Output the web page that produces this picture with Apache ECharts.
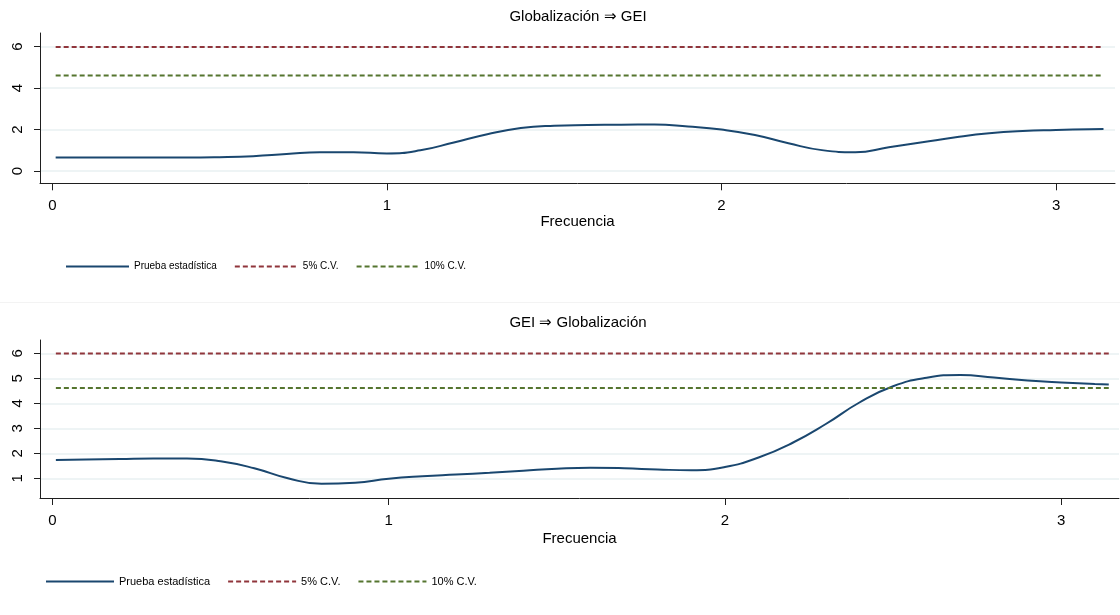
<!DOCTYPE html>
<html>
<head>
<meta charset="utf-8">
<script src="https://cdn.jsdelivr.net/npm/echarts@6/dist/echarts.min.js"></script>
<style>
html,body{margin:0;padding:0;background:#fff;}
#chart{width:1120px;height:615px;}
</style>
</head>
<body>
<div id="chart"></div>
<script>
// ---- data ----
const freq = [0.01, 0.1, 0.2, 0.3, 0.4, 0.5, 0.6, 0.7, 0.8, 0.9, 1.0, 1.1, 1.2, 1.3, 1.4, 1.5, 1.6, 1.7, 1.8, 1.9, 2.0, 2.1, 2.2, 2.3, 2.4, 2.5, 2.6, 2.7, 2.8, 2.9, 3.0, 3.1, 3.1416];
const statGlobToGei = [0.66, 0.66, 0.65, 0.65, 0.65, 0.67, 0.72, 0.82, 0.91, 0.91, 0.85, 1.0, 1.38, 1.78, 2.08, 2.19, 2.22, 2.24, 2.25, 2.15, 2.00, 1.74, 1.34, 1.01, 0.91, 1.15, 1.39, 1.63, 1.82, 1.93, 1.98, 2.02, 2.03];
const statGeiToGlob = [1.73, 1.75, 1.77, 1.79, 1.79, 1.68, 1.40, 1.00, 0.78, 0.82, 0.98, 1.08, 1.15, 1.22, 1.30, 1.38, 1.42, 1.40, 1.35, 1.32, 1.45, 1.83, 2.41, 3.17, 4.03, 4.68, 5.02, 5.13, 5.03, 4.91, 4.83, 4.77, 4.75];
const cv5 = 5.99;
const cv10 = 4.61;
const xTicks = [0, 1, 2, 3];
const yTicksTop = [0, 2, 4, 6];
const yTicksBottom = [1, 2, 3, 4, 5, 6];
const titles = ['Globalización \u21D2 GEI', 'GEI \u21D2 Globalización'];
const xName = 'Frecuencia';
const seriesNames = ['Prueba estadística', '5% C.V.', '10% C.V.'];

// ---- styles ----
const NAVY = '#1a476f', MAROON = '#90353b', GREEN = '#55752f';
const FONT = '"Liberation Sans", Arial, sans-serif';
const AX = '#1f1f1f';
const GRIDC = '#e9f0f2';

function pairs(xs, ys) { return xs.map((x, i) => [x, ys[i]]); }
function hline(v) { return [[freq[0], v], [freq[freq.length - 1], v]]; }

function xAxis(gi, min, max) {
  return {
    type: 'value', gridIndex: gi, min: min, max: max,
    name: xName, nameLocation: 'middle', nameGap: gi === 0 ? 31 : 33,
    nameTextStyle: { fontFamily: FONT, fontSize: 15, color: '#000' },
    axisLine: { show: true, onZero: false, lineStyle: { color: AX, width: 1 } },
    axisTick: { show: true, length: 7, customValues: xTicks, lineStyle: { color: AX, width: 1 } },
    axisLabel: { customValues: xTicks, margin: 15, fontFamily: FONT, fontSize: 15, color: '#000' },
    splitLine: { show: false }
  };
}
function yAxis(gi, min, max, ticks) {
  return {
    type: 'value', gridIndex: gi, min: min, max: max,
    axisLine: { show: true, onZero: false, lineStyle: { color: AX, width: 1 } },
    axisTick: { show: true, length: 6, customValues: ticks, lineStyle: { color: AX, width: 1 } },
    axisLabel: { customValues: ticks, rotate: 90, margin: 15, fontFamily: FONT, fontSize: 15, color: '#000' },
    splitLine: { show: true, lineStyle: { color: GRIDC, width: 1.5 } }
  };
}
function seriesFor(gi, stat) {
  return [
    { name: seriesNames[0], type: 'line', xAxisIndex: gi, yAxisIndex: gi, data: pairs(freq, stat),
      smooth: 0.5, showSymbol: false, symbol: 'none', lineStyle: { color: NAVY, width: 2 }, itemStyle: { color: NAVY }, z: 3 },
    { name: seriesNames[1], type: 'line', xAxisIndex: gi, yAxisIndex: gi, data: hline(cv5),
      showSymbol: false, symbol: 'none', lineStyle: { color: MAROON, width: 2, type: [5, 3] }, itemStyle: { color: MAROON } },
    { name: seriesNames[2], type: 'line', xAxisIndex: gi, yAxisIndex: gi, data: hline(cv10),
      showSymbol: false, symbol: 'none', lineStyle: { color: GREEN, width: 2, type: [5, 3] }, itemStyle: { color: GREEN } }
  ];
}

const legendCommon = { padding: 0, itemHeight: 14, itemGap: 17, selectedMode: false,
  itemStyle: { opacity: 0, borderWidth: 0 } };

const chart = echarts.init(document.getElementById('chart'), null, { renderer: 'canvas' });
chart.setOption({
  animation: false,
  backgroundColor: '#fff',
  title: [
    { text: titles[0], left: 578, top: 9, textAlign: 'center', padding: 0,
      textStyle: { fontFamily: FONT, fontSize: 15, fontWeight: 'normal', color: '#000' } },
    { text: titles[1], left: 578, top: 315, textAlign: 'center', padding: 0,
      textStyle: { fontFamily: FONT, fontSize: 15, fontWeight: 'normal', color: '#000' } }
  ],
  legend: [
    Object.assign({ data: seriesNames, left: 65, top: 261, itemWidth: 63,
      textStyle: { fontFamily: FONT, fontSize: 10, color: '#000' } }, legendCommon),
    Object.assign({ data: seriesNames, left: 45, top: 576, itemWidth: 68,
      textStyle: { fontFamily: FONT, fontSize: 11, color: '#000' } }, legendCommon)
  ],
  grid: [
    { left: 40, top: 33, width: 1075, height: 150.3, containLabel: false },
    { left: 40, top: 340, width: 1079, height: 158, containLabel: false }
  ],
  xAxis: [ xAxis(0, -0.0368, 3.176), xAxis(1, -0.0372, 3.172) ],
  yAxis: [ yAxis(0, -0.59, 6.66, yTicksTop), yAxis(1, 0.21, 6.53, yTicksBottom) ],
  graphic: [
    { type: 'line', shape: { x1: 0, y1: 302.5, x2: 1120, y2: 302.5 }, style: { stroke: '#f3f3f3', lineWidth: 1 }, silent: true }
  ],
  series: seriesFor(0, statGlobToGei).concat(seriesFor(1, statGeiToGlob))
});
</script>
</body>
</html>
